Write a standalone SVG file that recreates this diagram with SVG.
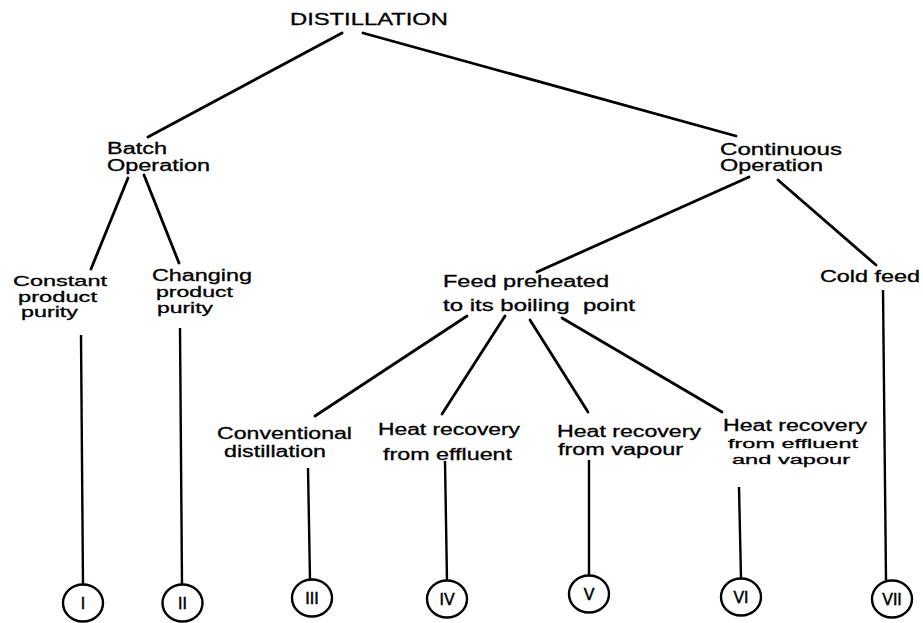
<svg xmlns="http://www.w3.org/2000/svg" width="923" height="623" viewBox="0 0 923 623">
<style>
  text { font-family: "Liberation Sans", Arial, sans-serif; font-size: 16px; fill: #000; stroke: #000; stroke-width: 0.3; }
  .tight { font-size: 14.5px; }
  .tighter { font-size: 13.5px; }
  .num { font-size: 16px; text-anchor: middle; stroke-width: 0.5; }
  .edge { stroke: #000; stroke-width: 2.8; fill: none; stroke-linecap: round; }
  .vert { stroke: #000; stroke-width: 2.4; fill: none; }
  .circ { stroke: #000; stroke-width: 2.4; fill: #fff; }
</style>
<rect width="923" height="623" fill="#fff"/>
<g id="connectors">
  <line class="edge" x1="342" y1="33" x2="148" y2="137"/>
  <line class="edge" x1="363" y1="33" x2="736" y2="136"/>
  <line class="edge" x1="128" y1="178" x2="91" y2="269"/>
  <line class="edge" x1="144" y1="175" x2="179" y2="263"/>
  <line class="edge" x1="749" y1="177" x2="537" y2="272"/>
  <line class="edge" x1="778" y1="180" x2="876" y2="265"/>
  <line class="edge" x1="467" y1="316" x2="315" y2="416"/>
  <line class="edge" x1="505" y1="316" x2="442" y2="414"/>
  <line class="edge" x1="530" y1="320" x2="588" y2="412"/>
  <line class="edge" x1="562" y1="318" x2="722" y2="412"/>
  <line class="vert" x1="81" y1="335" x2="83" y2="585"/>
  <line class="vert" x1="180" y1="328" x2="182" y2="585"/>
  <line class="vert" x1="308" y1="468" x2="310" y2="580"/>
  <line class="vert" x1="445" y1="461" x2="447" y2="581"/>
  <line class="vert" x1="589" y1="460" x2="589" y2="576"/>
  <line class="vert" x1="739" y1="487" x2="741" y2="578"/>
  <line class="vert" x1="883" y1="290" x2="886" y2="580"/>
</g>
<g id="distillation">
  <text x="290" y="25" textLength="158" lengthAdjust="spacingAndGlyphs">DISTILLATION</text>
</g>
<g id="batch">
  <text x="107" y="154" textLength="60" lengthAdjust="spacingAndGlyphs">Batch</text>
  <text x="107" y="171" textLength="103" lengthAdjust="spacingAndGlyphs">Operation</text>
</g>
<g id="continuous">
  <text x="720" y="155" textLength="122" lengthAdjust="spacingAndGlyphs">Continuous</text>
  <text x="720" y="171" textLength="103" lengthAdjust="spacingAndGlyphs">Operation</text>
</g>
<g id="constant">
  <text class="tight" x="13" y="286" textLength="94" lengthAdjust="spacingAndGlyphs">Constant</text>
  <text class="tight" x="18" y="301.5" textLength="79" lengthAdjust="spacingAndGlyphs">product</text>
  <text class="tight" x="21" y="317" textLength="57" lengthAdjust="spacingAndGlyphs">purity</text>
</g>
<g id="changing">
  <text x="152" y="281" textLength="100" lengthAdjust="spacingAndGlyphs">Changing</text>
  <text class="tight" x="156" y="297" textLength="77" lengthAdjust="spacingAndGlyphs">product</text>
  <text class="tight" x="157" y="313" textLength="56" lengthAdjust="spacingAndGlyphs">purity</text>
</g>
<g id="feed-preheated">
  <text x="443" y="287" textLength="166" lengthAdjust="spacingAndGlyphs">Feed preheated</text>
  <text x="443" y="311" textLength="192" lengthAdjust="spacingAndGlyphs" xml:space="preserve">to its boiling  point</text>
</g>
<g id="cold-feed">
  <text x="820" y="282" textLength="100" lengthAdjust="spacingAndGlyphs">Cold feed</text>
</g>
<g id="conventional">
  <text x="217" y="439" textLength="135" lengthAdjust="spacingAndGlyphs">Conventional</text>
  <text x="224" y="457" textLength="102" lengthAdjust="spacingAndGlyphs">distillation</text>
</g>
<g id="hr-effluent">
  <text x="378" y="435" textLength="142" lengthAdjust="spacingAndGlyphs">Heat recovery</text>
  <text x="383" y="460" textLength="129" lengthAdjust="spacingAndGlyphs">from effluent</text>
</g>
<g id="hr-vapour">
  <text x="557" y="437" textLength="144" lengthAdjust="spacingAndGlyphs">Heat recovery</text>
  <text x="558" y="455" textLength="125" lengthAdjust="spacingAndGlyphs">from vapour</text>
</g>
<g id="hr-effluent-vapour">
  <text x="723" y="431" textLength="144" lengthAdjust="spacingAndGlyphs">Heat recovery</text>
  <text class="tighter" x="728" y="447.5" textLength="130" lengthAdjust="spacingAndGlyphs">from effluent</text>
  <text class="tighter" x="732" y="463.5" textLength="118" lengthAdjust="spacingAndGlyphs">and vapour</text>
</g>
<g id="c1"><ellipse class="circ" cx="83" cy="603" rx="20" ry="18.5"/><text class="num" x="83" y="609">I</text></g>
<g id="c2"><ellipse class="circ" cx="182.5" cy="603" rx="20" ry="18.5"/><text class="num" x="182.5" y="609">II</text></g>
<g id="c3"><ellipse class="circ" cx="312" cy="598" rx="20" ry="18.5"/><text class="num" x="312" y="604">III</text></g>
<g id="c4"><ellipse class="circ" cx="447" cy="599" rx="20" ry="18.5"/><text class="num" x="447" y="605">IV</text></g>
<g id="c5"><ellipse class="circ" cx="589" cy="594" rx="20" ry="18.5"/><text class="num" x="589" y="600">V</text></g>
<g id="c6"><ellipse class="circ" cx="741" cy="597" rx="20" ry="18.5"/><text class="num" x="741" y="603">VI</text></g>
<g id="c7"><ellipse class="circ" cx="892" cy="599" rx="20" ry="18.5"/><text class="num" x="892" y="605">VII</text></g>
</svg>
